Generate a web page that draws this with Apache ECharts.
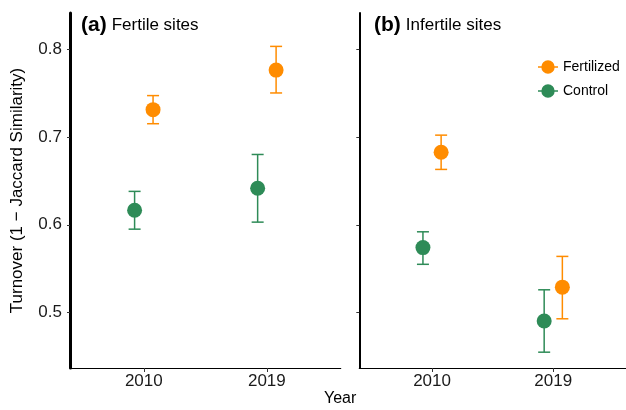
<!DOCTYPE html>
<html>
<head>
<meta charset="utf-8">
<script src="https://cdn.jsdelivr.net/npm/echarts@6/dist/echarts.min.js"></script>
<style>html,body{margin:0;padding:0;background:#fff;}#c{width:626px;height:410px;}</style>
</head>
<body>
<div id="c"></div>
<script>
// ---- data ----
const years = ['2010', '2019'];
const panelTitles = ['(a)', '(b)'];
const panelNames = ['Fertile sites', 'Infertile sites'];
const seriesNames = ['Fertilized', 'Control'];
const yTicks = [0.5, 0.6, 0.7, 0.8];

// Fertile sites
const fertileFertMean = [0.731, 0.776];
const fertileFertLow  = [0.715, 0.750];
const fertileFertHigh = [0.747, 0.803];
const fertileCtrlMean = [0.6165, 0.6415];
const fertileCtrlLow  = [0.595, 0.603];
const fertileCtrlHigh = [0.638, 0.680];

// Infertile sites
const infertileFertMean = [0.6825, 0.529];
const infertileFertLow  = [0.663, 0.493];
const infertileFertHigh = [0.702, 0.564];
const infertileCtrlMean = [0.574, 0.4905];
const infertileCtrlLow  = [0.555, 0.455];
const infertileCtrlHigh = [0.592, 0.526];

// ---- styling ----
const FONT = '"Liberation Sans", Arial, Helvetica, sans-serif';
const ORANGE = '#FF8C00';
const GREEN = '#2E8B57';
const DODGE = 0.075;

function pts(mean, off) { return mean.map((v, i) => [i + 1 + off, v]); }
function bars(low, high, off) { return low.map((v, i) => [i + 1 + off, v, high[i]]); }

function errSeries(idx, low, high, off, color) {
  return {
    type: 'custom', xAxisIndex: idx, yAxisIndex: idx, z: 2,
    encode: { x: 0, y: [1, 2] },
    data: bars(low, high, off),
    renderItem: function (params, api) {
      const x = api.value(0);
      const a = api.coord([x, api.value(1)]);
      const b = api.coord([x, api.value(2)]);
      const hw = 6;
      const st = { stroke: color, lineWidth: 1.5 };
      return { type: 'group', children: [
        { type: 'line', shape: { x1: a[0], y1: a[1], x2: b[0], y2: b[1] }, style: st },
        { type: 'line', shape: { x1: a[0] - hw, y1: a[1], x2: a[0] + hw, y2: a[1] }, style: st },
        { type: 'line', shape: { x1: b[0] - hw, y1: b[1], x2: b[0] + hw, y2: b[1] }, style: st }
      ]};
    }
  };
}
function ptSeries(idx, name, mean, off, color) {
  return {
    type: 'scatter', name: name, xAxisIndex: idx, yAxisIndex: idx, z: 3,
    symbol: 'circle', symbolSize: 15,
    itemStyle: { color: color, opacity: 1 },
    data: pts(mean, off)
  };
}

function xAxisCfg(idx) {
  return {
    type: 'value', gridIndex: idx, min: 0.4, max: 2.6,
    splitLine: { show: false },
    axisLine: { show: true, onZero: false, lineStyle: { color: '#000', width: 1.2 } },
    axisTick: { show: true, customValues: [1, 2], length: 4, lineStyle: { color: '#333', width: 1 } },
    axisLabel: { customValues: [1, 2], margin: 5, formatter: v => years[Math.round(v) - 1],
      fontFamily: FONT, fontSize: 17, color: '#1a1a1a' }
  };
}
function yAxisCfg(idx) {
  const cfg = {
    type: 'value', gridIndex: idx, min: 0.437, max: 0.841,
    splitLine: { show: false },
    axisLine: { show: true, onZero: false, lineStyle: { color: '#000', width: idx === 0 ? 3 : 2 } },
    axisTick: { show: true, customValues: yTicks, length: 3, lineStyle: { color: '#333', width: 1 } },
    axisLabel: { show: idx === 0, customValues: yTicks, margin: 8, formatter: v => v.toFixed(1),
      fontFamily: FONT, fontSize: 17, color: '#1a1a1a' }
  };
  if (idx === 0) {
    cfg.name = 'Turnover (1 \u2212 Jaccard Similarity)';
    cfg.nameLocation = 'middle';
    cfg.nameGap = 44;
    cfg.nameTextStyle = { fontFamily: FONT, fontSize: 17, color: '#000' };
  }
  return cfg;
}

function titleCfg(i, left) {
  return {
    left: left, top: 10,
    text: '{b|' + panelTitles[i] + '} {n|' + panelNames[i] + '}',
    textStyle: {
      fontWeight: 'normal',
      rich: {
        b: { fontFamily: FONT, fontSize: 21, fontWeight: 'bold', color: '#000', verticalAlign: 'middle' },
        n: { fontFamily: FONT, fontSize: 17, fontWeight: 'normal', color: '#000', verticalAlign: 'middle' }
      }
    }
  };
}

const option = {
  animation: false,
  backgroundColor: '#fff',
  title: [titleCfg(0, 76), titleCfg(1, 369)],
  legend: {
    orient: 'vertical', left: 533, top: 55,
    data: seriesNames,
    itemWidth: 20, itemHeight: 15, itemGap: 10,
    icon: 'path://M0,6.8 L20,6.8 L20,8.2 L0,8.2 Z M16.7,7.5 A6.7,6.7 0 1 1 3.3,7.5 A6.7,6.7 0 1 1 16.7,7.5 Z',
    textStyle: { fontFamily: FONT, fontSize: 14, color: '#000', padding: [0, 0, 0, 0] }
  },
  graphic: [
    { type: 'text', left: 324, top: 391, style: { text: 'Year', font: '16px ' + FONT, fill: '#000' } }
  ],
  grid: [
    { left: 70, top: 13, width: 270.7, height: 355 },
    { left: 359.3, top: 13, width: 271.5, height: 355 }
  ],
  xAxis: [xAxisCfg(0), xAxisCfg(1)],
  yAxis: [yAxisCfg(0), yAxisCfg(1)],
  series: [
    errSeries(0, fertileFertLow, fertileFertHigh, DODGE, ORANGE),
    errSeries(0, fertileCtrlLow, fertileCtrlHigh, -DODGE, GREEN),
    errSeries(1, infertileFertLow, infertileFertHigh, DODGE, ORANGE),
    errSeries(1, infertileCtrlLow, infertileCtrlHigh, -DODGE, GREEN),
    ptSeries(0, seriesNames[0], fertileFertMean, DODGE, ORANGE),
    ptSeries(0, seriesNames[1], fertileCtrlMean, -DODGE, GREEN),
    ptSeries(1, seriesNames[0], infertileFertMean, DODGE, ORANGE),
    ptSeries(1, seriesNames[1], infertileCtrlMean, -DODGE, GREEN)
  ]
};

const chart = echarts.init(document.getElementById('c'), null, { renderer: 'canvas' });
chart.setOption(option);
</script>
</body>
</html>
